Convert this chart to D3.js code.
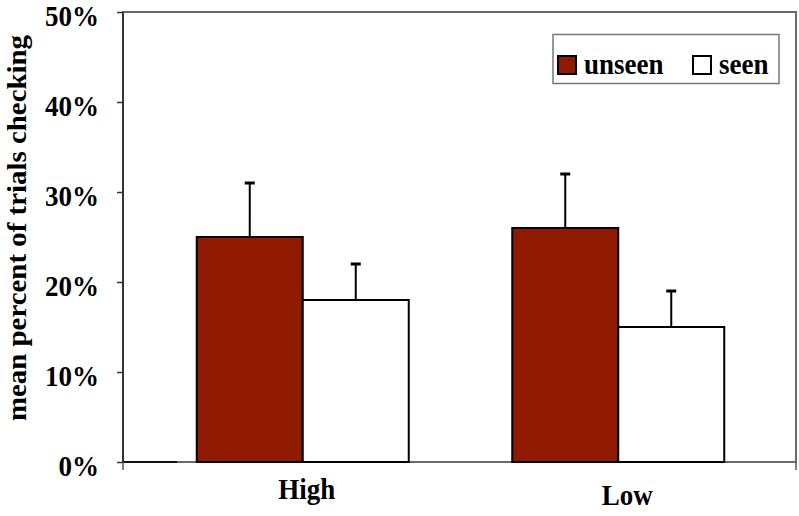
<!DOCTYPE html>
<html><head><meta charset="utf-8">
<script src="https://d3js.org/d3.v7.min.js"></script>
<style>body{margin:0;background:#fff}svg{display:block}text{font-family:"Liberation Serif","Times New Roman",serif;font-weight:bold;fill:#000}</style>
</head><body><script>
const categories = ["High", "Low"];
const seriesNames = ["unseen", "seen"];
const unseen = [25, 26];
const seen = [18, 15];
const unseenErr = [6, 6];
const seenErr = [4, 4];
const yTicks = [0, 10, 20, 30, 40, 50];
const colors = {unseen: "#8f1a00", seen: "#ffffff"};

(function () {
const W = 799, H = 516;
const svg = d3.select("body").append("svg").attr("width", W).attr("height", H);
const pL = 123, pR = 796, pT = 12, pB = 462;
const SY = 1.1;

const y = d3.scaleLinear().domain([0, 50]).range([pB, pT]);
const x = d3.scaleBand().domain(categories).range([145, 776]).paddingInner(0).paddingOuter(0);
const groupW = 212;
const xs = d3.scaleBand().domain(seriesNames).range([0, groupW]);

// frame
svg.append("rect").attr("x", pL).attr("y", pT).attr("width", pR - pL).attr("height", pB - pT)
  .attr("fill", "none").attr("stroke", "#6a6a6a").attr("stroke-width", 2);

const data = categories.map((c, i) => ({cat: c, vals: [
  {s: "unseen", v: unseen[i], e: unseenErr[i]},
  {s: "seen", v: seen[i], e: seenErr[i]}]}));

const g = svg.selectAll("g.cat").data(data).join("g").attr("class", "cat")
  .attr("transform", d => `translate(${x(d.cat) + x.bandwidth() / 2 - groupW / 2},0)`);

// error bars
g.selectAll("line.err").data(d => d.vals).join("line").attr("class", "err")
  .attr("x1", d => xs(d.s) + xs.bandwidth() / 2).attr("x2", d => xs(d.s) + xs.bandwidth() / 2)
  .attr("y1", d => y(d.v)).attr("y2", d => y(d.v + d.e))
  .attr("stroke", "#000").attr("stroke-width", 2);
g.selectAll("line.cap").data(d => d.vals).join("line").attr("class", "cap")
  .attr("x1", d => xs(d.s) + xs.bandwidth() / 2 - 5).attr("x2", d => xs(d.s) + xs.bandwidth() / 2 + 5)
  .attr("y1", d => y(d.v + d.e)).attr("y2", d => y(d.v + d.e))
  .attr("stroke", "#000").attr("stroke-width", 3);

g.selectAll("rect.bar").data(d => d.vals).join("rect").attr("class", "bar")
  .attr("x", d => xs(d.s)).attr("width", xs.bandwidth())
  .attr("y", d => y(d.v)).attr("height", d => y(0) - y(d.v))
  .attr("fill", d => colors[d.s]).attr("stroke", "#000").attr("stroke-width", 2);

// axes
svg.append("line").attr("x1", pL).attr("x2", pL).attr("y1", pT).attr("y2", pB)
  .attr("stroke", "#333").attr("stroke-width", 2);
svg.append("line").attr("x1", pL).attr("x2", 177).attr("y1", pB).attr("y2", pB)
  .attr("stroke", "#111").attr("stroke-width", 2);

const yAxis = svg.append("g").attr("transform", `translate(${pL},0)`)
  .call(d3.axisLeft(y).tickValues(yTicks).tickSize(6).tickFormat(d => d + "%"));
yAxis.select(".domain").remove();
yAxis.selectAll(".tick line").attr("stroke", "#333").attr("stroke-width", 1.5);
yAxis.selectAll(".tick text").attr("x", null).attr("dy", null)
  .attr("transform", `translate(-24,13) scale(1,${SY})`)
  .attr("font-size", 27).attr("font-family", "Liberation Serif").attr("font-weight", "bold");

// x ticks at frame edges
[pL, pR].forEach(xx => svg.append("line").attr("x1", xx).attr("x2", xx).attr("y1", pB).attr("y2", pB + 8)
  .attr("stroke", "#555").attr("stroke-width", 1.5));

// x labels
const xOffsets = {High: [4, 499], Low: [9, 505]};
svg.selectAll("text.xl").data(categories).join("text").attr("class", "xl")
  .attr("transform", d => `translate(${x(d) + x.bandwidth() / 2 + xOffsets[d][0]},${xOffsets[d][1]}) scale(1,${SY})`)
  .attr("text-anchor", "middle").attr("font-size", 27).text(d => d);

// y title
svg.append("text").attr("transform", "translate(26,228) scale(1,1.07) rotate(-90)").attr("text-anchor", "middle")
  .attr("font-size", 27).text("mean percent of trials checking");

// legend
const lg = svg.append("g");
lg.append("rect").attr("x", 553).attr("y", 34.5).attr("width", 226).attr("height", 49)
  .attr("fill", "#fff").attr("stroke", "#777").attr("stroke-width", 1.5);
const legX = {unseen: 558, seen: 693};
seriesNames.forEach(s => {
  lg.append("rect").attr("x", legX[s]).attr("y", 56).attr("width", 18).attr("height", 18)
    .attr("fill", colors[s]).attr("stroke", "#000").attr("stroke-width", 2);
  lg.append("text").attr("transform", `translate(${legX[s] + 26},73.5) scale(1,${SY})`)
    .attr("font-size", 27).text(s);
});
})();
</script></body></html>
